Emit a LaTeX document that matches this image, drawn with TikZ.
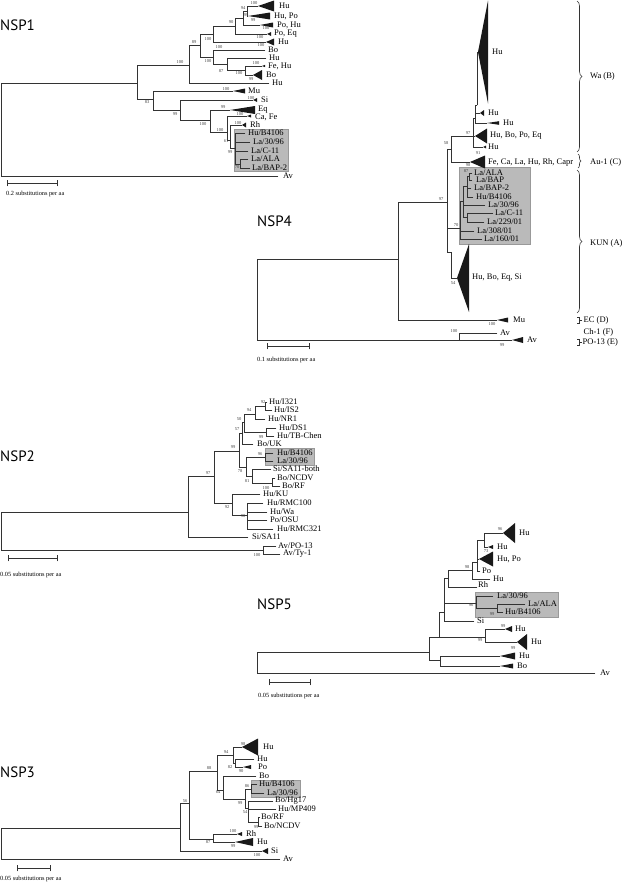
\documentclass[tikz,border=0pt]{standalone}
\usepackage{fontspec}
\setmainfont{Liberation Serif}
\newfontfamily\titlefont{PT Sans}
\usetikzlibrary{decorations.pathreplacing}
\newcount\nnc
\newcommand\leafl[3]{\global\advance\nnc by 1\relax\node[leaf] (n\the\nnc) at (#1,#2) {#3};}
\newcommand\bootl[3]{\global\advance\nnc by 1\relax\node[boot] (n\the\nnc) at (#1,#2) {#3};}
\newcommand\cladetri[4]{\fill[clade] (#1,#2) -- (#3,#2-#4) -- (#3,#2+#4) -- cycle;}
\tikzset{
  br/.style={draw=black!80, line width=0.75pt, line cap=rect},
  clade/.style={fill=black!90},
  leaf/.style={anchor=west, inner sep=0pt, font=\fontsize{8.5}{9}\selectfont},
  boot/.style={inner sep=0pt, font=\fontsize{4.5}{5}\selectfont, text=black!75},
  title/.style={anchor=west, inner sep=0pt, font=\titlefont\fontsize{15}{15}\selectfont},
  scl/.style={anchor=west, inner sep=0pt, font=\fontsize{6.3}{7}\selectfont},
  hbox/.style={fill=black!27, draw=black!40, line width=0.4pt},
  brc/.style={draw=black!80, line width=0.6pt, decorate, decoration={brace, amplitude=#1}},
  brc/.default=5pt
}
\begin{document}
\begin{tikzpicture}[x=1pt,y=-1pt]
\useasboundingbox (0,0) rectangle (624,886);
% ================= NSP1 =================
\node[title] (t1) at (0,25) {NSP1};
\path[hbox] (234,129) rectangle (288,171);
\draw[br] (1,83)--(1,176) (1,83)--(137,83) (1,176)--(278,176)
 (137,65)--(137,99) (137,65)--(189,65) (137,99)--(153,99)
 (189,45)--(189,83) (189,45)--(200,45) (189,83)--(269,83)
 (200,34)--(200,57) (200,34)--(213,34) (200,57)--(213,57)
 (213,26)--(213,42) (213,26)--(235,26) (213,42)--(266,42)
 (235,18)--(235,34) (235,18)--(243,18) (235,34)--(267,34)
 (243,11)--(243,25) (243,11)--(247,11) (243,25)--(260,25)
 (247,6)--(247,16) (247,6)--(258,6) (247,16)--(248,16)
 (213,50)--(213,64) (213,50)--(265,50) (213,64)--(227,64)
 (227,58)--(227,70) (227,58)--(266,58) (227,70)--(245,70)
 (245,66)--(245,75) (245,66)--(262,66) (245,75)--(253,75)
 (153,91)--(153,110) (153,91)--(233,91) (153,110)--(180,110)
 (180,100)--(180,120) (180,100)--(253,100) (180,120)--(210,120)
 (210,110)--(210,132) (210,110)--(230,110) (210,132)--(227,132)
 (227,116)--(227,140) (227,116)--(247,116) (227,140)--(230,140)
 (230,125)--(230,148) (230,125)--(242,125) (230,148)--(235,148)
 (235,133)--(235,164) (235,133)--(245,133) (235,142)--(250,142) (235,151)--(248,151) (235,164)--(240,164)
 (240,159)--(240,168) (240,159)--(248,159) (240,168)--(250,168);
\cladetri{258}{6}{274}{5.5}
\cladetri{248}{16}{270}{3.5}
\cladetri{260}{25}{273}{2.5}
\cladetri{267}{34}{271}{2}
\cladetri{266}{42}{274}{3.5}
\cladetri{262}{66}{265}{1.2}
\cladetri{253}{75}{262}{5}
\cladetri{233}{91}{245}{2.5}
\cladetri{253}{100}{257}{2}
\cladetri{230}{110}{255}{4}
\cladetri{247}{116}{251}{1.5}
\cladetri{242}{125}{246}{2.5}
\leafl{279}{6}{Hu}
\leafl{274}{16}{Hu, Po}
\leafl{277}{25}{Po, Hu}
\leafl{274}{34}{Po, Eq}
\leafl{278}{42}{Hu}
\leafl{268}{50}{Bo}
\leafl{269}{58}{Hu}
\leafl{268}{66}{Fe, Hu}
\leafl{266}{75}{Bo}
\leafl{272}{83}{Hu}
\leafl{248}{91}{Mu}
\leafl{261}{100}{Si}
\leafl{258}{110}{Eq}
\leafl{255}{117}{Ca, Fe}
\leafl{250}{125}{Rh}
\leafl{248}{133}{Hu/B4106}
\leafl{253}{142}{La/30/96}
\leafl{251}{151}{La/C-11}
\leafl{251}{159}{La/ALA}
\leafl{252}{168}{La/BAP-2}
\leafl{283}{176}{Av}
\bootl{254}{3}{100} \bootl{243}{8}{94} \bootl{246}{15}{99} \bootl{253}{20}{99}
\bootl{231}{22}{90} \bootl{266}{28}{100} \bootl{260}{37}{100} \bootl{208}{39}{100}
\bootl{261}{45}{100} \bootl{194}{42}{89} \bootl{219}{47}{100} \bootl{180}{62}{100}
\bootl{256}{63}{100} \bootl{208}{61}{100} \bootl{221}{71}{87} \bootl{239}{73}{100}
\bootl{251}{79}{99} \bootl{147}{102}{83} \bootl{226}{89}{100} \bootl{175}{114}{99}
\bootl{251}{98}{100} \bootl{223}{107}{99} \bootl{240}{114}{100} \bootl{203}{124}{100}
\bootl{238}{123}{100} \bootl{220}{130}{100} \bootl{226}{141}{61} \bootl{230}{152}{99}
\bootl{237}{167}{70}
\draw[br] (7,183)--(57,183) (7,180)--(7,186) (57,180)--(57,186);
\node[scl] (s1) at (6,194) {0.2 substitutions per aa};
% ================= NSP4 =================
\node[title] (t4) at (257,221) {NSP4};
\path[hbox] (459,167) rectangle (530,244);
\draw[br] (257,259)--(257,340) (257,259)--(398,259) (257,340)--(459,340)
 (398,202)--(398,320) (398,202)--(447,202) (398,320)--(497,320)
 (459,333)--(459,340) (459,333)--(497,333) (459,340)--(512,340)
 (447,149)--(447,252) (447,149)--(451,149) (447,228)--(460,228) (447,252)--(451,252)
 (451,252)--(451,278) (451,278)--(457,278)
 (451,136)--(451,162) (451,136)--(473,136) (451,162)--(470,162)
 (473,118)--(473,147) (473,136)--(475,136) (473,147)--(483,147)
 (475,105)--(475,123) (473,118)--(475,118) (475,113)--(480,113) (475,123)--(487,123)
 (477,52)--(477,105) (475,105)--(477,105) (477,52)--(478,52)
 (469,173)--(469,180) (469,173)--(472,173) (469,180)--(472,180)
 (467,176.5)--(467,197) (467,176.5)--(469,176.5) (467,188)--(471,188) (467,197)--(473,197)
 (463,186)--(463,217) (463,186)--(467,186) (463,205)--(485,205) (463,217)--(467,217)
 (467,213)--(467,222) (467,213)--(493,213) (467,222)--(484,222)
 (460,201)--(460,239) (460,201)--(463,201) (460,231)--(474,231) (460,239)--(482,239);
\cladetri{478}{52}{488}{51.5}
\cladetri{480}{113}{484}{3}
\cladetri{487}{123}{499}{1.8}
\cladetri{475}{136}{487}{7.5}
\cladetri{483}{147}{486}{1.5}
\cladetri{470}{162}{485}{6.5}
\cladetri{457}{278}{469}{34}
\cladetri{497}{320}{508}{2.5}
\cladetri{512}{340}{523}{3}
\leafl{492}{52}{Hu}
\leafl{488}{113}{Hu}
\leafl{503}{123}{Hu}
\leafl{490}{136}{Hu, Bo, Po, Eq}
\leafl{488}{147}{Hu}
\leafl{488}{162}{Fe, Ca, La, Hu, Rh, Capr}
\leafl{474}{173}{La/ALA}
\leafl{476}{180}{La/BAP}
\leafl{474}{188}{La/BAP-2}
\leafl{476}{197}{Hu/B4106}
\leafl{488}{205}{La/30/96}
\leafl{495}{213}{La/C-11}
\leafl{487}{222}{La/229/01}
\leafl{477}{231}{La/308/01}
\leafl{484}{239}{La/160/01}
\leafl{472}{278}{Hu, Bo, Eq, Si}
\leafl{513}{320}{Mu}
\leafl{500}{333}{Av}
\leafl{527}{340}{Av}
\bootl{468}{133}{97} \bootl{478}{153}{91} \bootl{446}{143}{58} \bootl{468}{165}{98}
\bootl{441}{199}{97} \bootl{456}{225}{70} \bootl{466}{171}{87} \bootl{453}{283}{54}
\bootl{492}{324}{100} \bootl{454}{331}{100} \bootl{502}{345}{99}
\draw[brc] (577,1) -- (577,152);
\draw[brc=3pt] (578,154) -- (578,168);
\draw[brc] (577,170) -- (577,313);
\draw[br] (577,317.5)--(579.5,317.5)--(579.5,323.5)--(577,323.5) (579.5,320.5)--(582,320.5);
\draw[br] (577,339)--(579.5,339)--(579.5,345)--(577,345) (579.5,342)--(581.5,342);
\leafl{590}{76}{Wa (B)}
\leafl{590}{162}{Au-1 (C)}
\leafl{590}{243}{KUN (A)}
\leafl{583.5}{320.5}{EC (D)}
\leafl{583.5}{332}{Ch-1 (F)}
\leafl{582.5}{342}{PO-13 (E)}
\draw[br] (267,346)--(309,346) (267,343)--(267,349) (309,343)--(309,349);
\node[scl] (s4) at (257,360) {0.1 substitutions per aa};
% ================= NSP2 =================
\node[title] (t2) at (0,456) {NSP2};
\path[hbox] (265,448) rectangle (314,465);
\draw[br] (1,512)--(1,550) (1,512)--(188,512) (1,550)--(263,550)
 (188,476)--(188,537) (188,476)--(214,476) (188,537)--(248,537)
 (214,451)--(214,503) (214,451)--(239,451) (214,503)--(232,503)
 (239,433)--(239,467) (239,433)--(242,433) (239,467)--(246,467)
 (242,422)--(242,444) (242,422)--(244,422) (242,444)--(253,444)
 (244,414)--(244,432) (244,414)--(255,414) (244,432)--(266,432)
 (255,406)--(255,419) (255,406)--(265,406) (255,419)--(265,419)
 (265,402)--(265,410) (265,402)--(267,402) (265,410)--(272,410)
 (266,428)--(266,436) (266,428)--(276,428) (266,436)--(274,436)
 (246,457)--(246,476) (246,457)--(265,457) (246,476)--(252,476)
 (265,453)--(265,461) (265,453)--(273,453) (265,461)--(273,461)
 (252,469)--(252,483) (252,469)--(271,469) (252,483)--(272,483)
 (272,478)--(272,486) (272,478)--(275,478) (272,486)--(280,486)
 (232,494)--(232,515) (232,494)--(260,494) (232,515)--(247,515)
 (247,503)--(247,529) (247,503)--(263,503) (247,512)--(267,512) (247,520)--(267,520) (247,529)--(273,529)
 (263,546)--(263,554) (263,546)--(276,546) (263,554)--(280,554);
\leafl{269}{402}{Hu/I321}
\leafl{274}{410}{Hu/IS2}
\leafl{268}{419}{Hu/NR1}
\leafl{279}{428}{Hu/DS1}
\leafl{277}{436}{Hu/TB-Chen}
\leafl{257}{444}{Bo/UK}
\leafl{277}{453}{Hu/B4106}
\leafl{277}{461}{La/30/96}
\leafl{273}{469}{Si/SA11-both}
\leafl{277}{478}{Bo/NCDV}
\leafl{282}{486}{Bo/RF}
\leafl{263}{494}{Hu/KU}
\leafl{267}{503}{Hu/RMC100}
\leafl{270}{512}{Hu/Wa}
\leafl{270}{520}{Po/OSU}
\leafl{277}{529}{Hu/RMC321}
\leafl{252}{537}{Si/SA11}
\leafl{278}{546}{Av/PO-13}
\leafl{283}{554}{Av/Ty-1}
\bootl{263}{402}{92} \bootl{249}{410}{94} \bootl{239}{419}{50} \bootl{237}{429}{57}
\bootl{261}{437}{99} \bootl{233}{447}{99} \bootl{208}{473}{97} \bootl{260}{454}{96}
\bootl{240}{471}{78} \bootl{247}{481}{81} \bootl{266}{488}{100} \bootl{227}{507}{92}
\bootl{243}{516}{90} \bootl{257}{555}{100}
\draw[br] (8,558)--(57,558) (8,555)--(8,561) (57,555)--(57,561);
\node[scl] (s2) at (0,575) {0.05 substitutions per aa};
% ================= NSP5 =================
\node[title] (t5) at (257,604) {NSP5};
\path[hbox] (475,592) rectangle (558,617);
\draw[br] (257,652)--(257,673) (257,652)--(429,652) (257,673)--(595,673)
 (429,637)--(429,660) (429,637)--(439,637) (429,660)--(440,660)
 (440,656)--(440,666) (440,656)--(500,656) (440,666)--(500,666)
 (439,612)--(439,637) (439,612)--(444,612) (439,637)--(485,637)
 (485,629)--(485,642) (485,629)--(505,629) (485,642)--(517,642)
 (444,578)--(444,621) (444,578)--(448,578) (444,603)--(476,603) (444,621)--(474,621)
 (448,570)--(448,587) (448,570)--(472,570) (448,587)--(477,587)
 (472,562)--(472,579) (472,562)--(477,562) (472,579)--(490,579)
 (477,540)--(477,571) (477,540)--(484,540) (477,559)--(479,559) (477,571)--(480,571)
 (484,533)--(484,547) (484,533)--(503,533) (484,547)--(488,547)
 (476,596)--(476,608) (476,596)--(493,596) (476,608)--(497,608)
 (497,604)--(497,612) (497,604)--(525,604) (497,612)--(503,612);
\cladetri{503}{533}{515}{10}
\cladetri{488}{547}{493}{2}
\cladetri{479}{559}{493}{7.5}
\cladetri{505}{629}{512}{3}
\cladetri{517}{642}{527}{8}
\cladetri{500}{656}{515}{3.5}
\cladetri{500}{666}{513}{2.5}
\leafl{519}{533}{Hu}
\leafl{497}{547}{Hu}
\leafl{497}{559}{Hu, Po}
\leafl{482}{571}{Po}
\leafl{493}{579}{Hu}
\leafl{478}{585}{Rh}
\leafl{497}{596}{La/30/96}
\leafl{528}{604}{La/ALA}
\leafl{505}{612}{Hu/B4106}
\leafl{477}{621}{Si}
\leafl{515}{629}{Hu}
\leafl{531}{642}{Hu}
\leafl{519}{656}{Hu}
\leafl{517}{666}{Bo}
\leafl{600}{673}{Av}
\bootl{500}{529}{96} \bootl{486}{551}{73} \bootl{467}{567}{98} \bootl{471}{605}{96}
\bootl{492}{614}{99} \bootl{503}{626}{99} \bootl{480}{640}{99} \bootl{513}{648}{99}
\draw[br] (269,682)--(310,682) (269,679)--(269,685) (310,679)--(310,685);
\node[scl] (s5) at (258,696) {0.05 substitutions per aa};
% ================= NSP3 =================
\node[title] (t3) at (0,772) {NSP3};
\path[hbox] (251,780) rectangle (300,797);
\draw[br] (1,828)--(1,859) (1,828)--(180,828) (1,859)--(280,859)
 (180,803)--(180,851) (180,803)--(189,803) (180,851)--(262,851)
 (189,771)--(189,839) (189,771)--(217,771) (189,839)--(213,839)
 (217,755)--(217,790) (217,755)--(233,755) (217,790)--(223,790)
 (233,747)--(233,763) (233,747)--(242,747) (233,763)--(235,763)
 (235,759)--(235,767) (235,759)--(254,759) (235,767)--(243,767)
 (223,776)--(223,799) (223,776)--(256,776) (223,799)--(245,799)
 (245,789)--(245,808) (245,789)--(251,789) (245,808)--(248,808)
 (251,784)--(251,793) (251,784)--(257,784) (251,793)--(264,793)
 (248,801)--(248,822) (248,801)--(273,801) (248,809)--(276,809) (248,822)--(258,822)
 (258,817)--(258,826) (258,817)--(260,817) (258,826)--(262,826)
 (213,834)--(213,842) (213,834)--(237,834) (213,842)--(235,842);
\cladetri{262}{851}{268}{3}
\cladetri{242}{747}{258}{8.5}
\cladetri{243}{767}{251}{2}
\cladetri{237}{834}{242}{2}
\cladetri{235}{842}{253}{4}
\leafl{263}{747}{Hu}
\leafl{257}{759}{Hu}
\leafl{258}{767}{Po}
\leafl{259}{776}{Bo}
\leafl{259}{784}{Hu/B4106}
\leafl{267}{793}{La/30/96}
\leafl{275}{801}{Bo/Hg17}
\leafl{278}{809}{Hu/MP409}
\leafl{261}{817}{Bo/RF}
\leafl{264}{826}{Bo/NCDV}
\leafl{246}{834}{Rh}
\leafl{257}{842}{Hu}
\leafl{271}{851}{Si}
\leafl{283}{859}{Av}
\bootl{185}{801}{56} \bootl{209}{768}{88} \bootl{226}{752}{94} \bootl{243}{744}{98}
\bootl{230}{767}{82} \bootl{241}{771}{90} \bootl{218}{792}{64} \bootl{247}{786}{86}
\bootl{240}{803}{99} \bootl{245}{812}{54} \bootl{256}{827}{99} \bootl{233}{831}{100}
\bootl{208}{842}{87} \bootl{233}{846}{99} \bootl{257}{855}{100}
\draw[br] (17,868)--(50,868) (17,865)--(17,871) (50,865)--(50,871);
\node[scl] (s3) at (0,879) {0.05 substitutions per aa};
\end{tikzpicture}
\end{document}
